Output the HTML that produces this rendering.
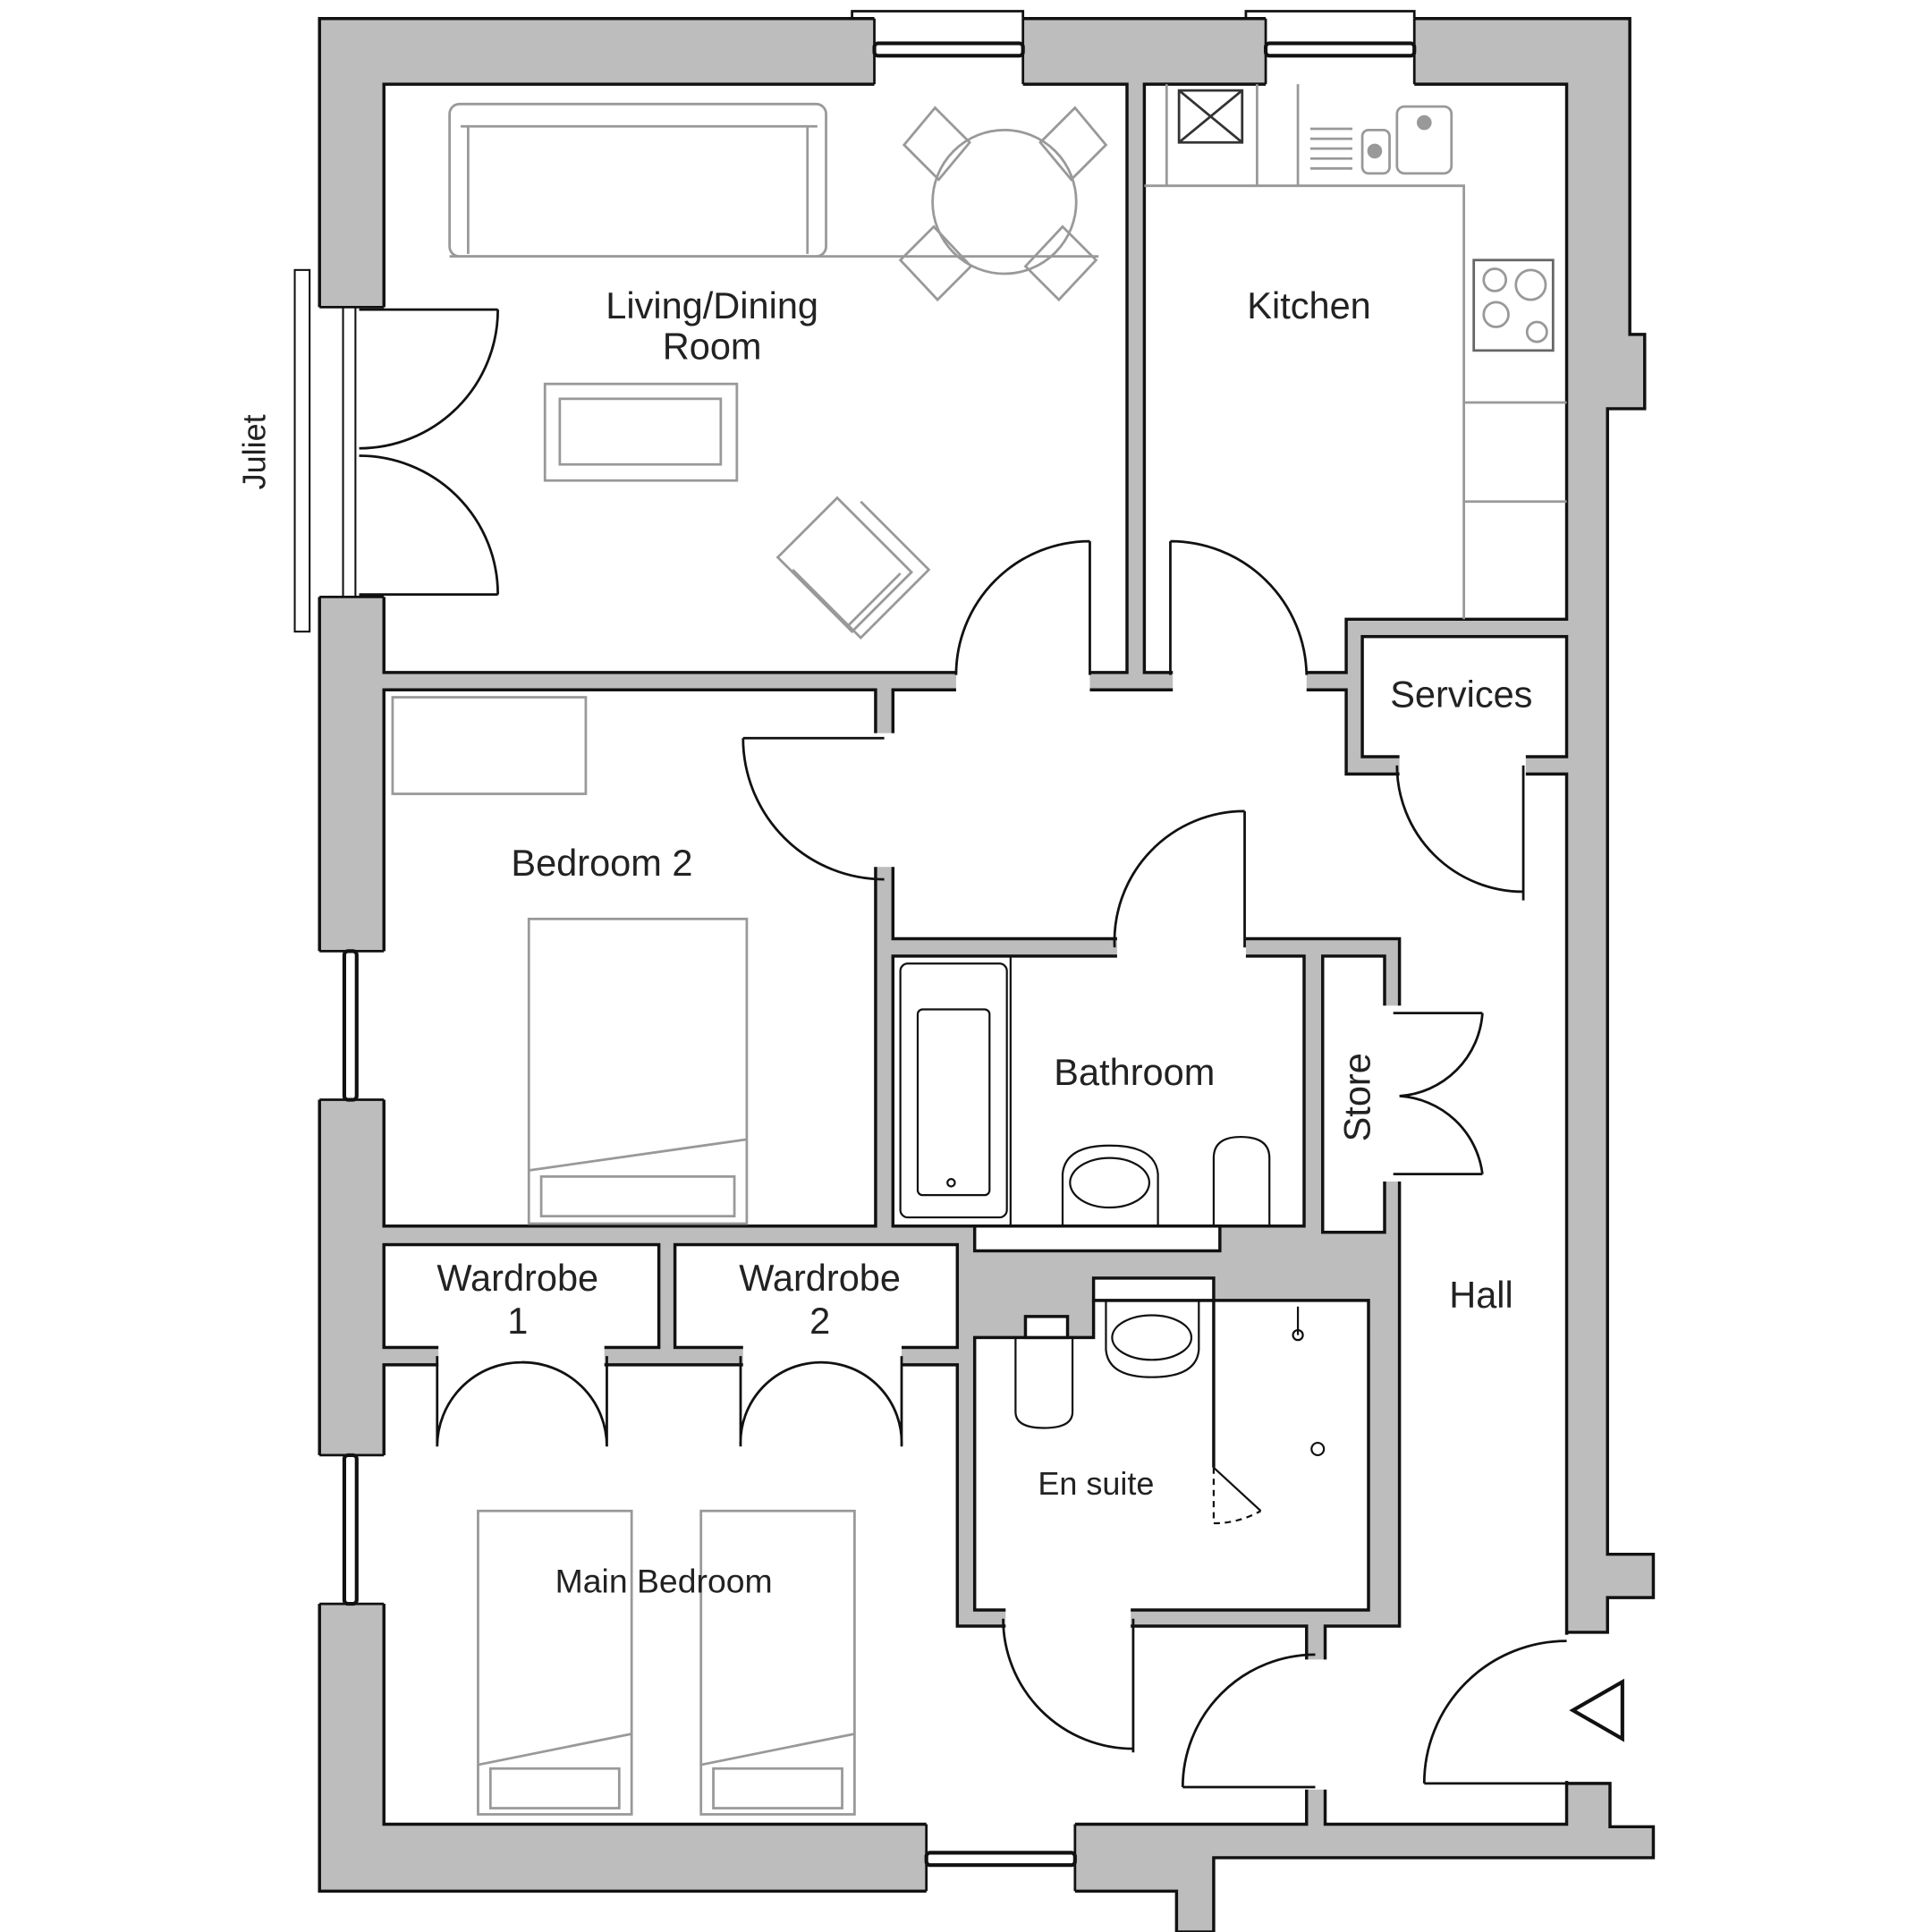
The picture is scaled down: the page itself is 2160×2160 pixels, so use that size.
<!DOCTYPE html>
<html><head><meta charset="utf-8"><style>html,body{margin:0;padding:0;background:#fff}svg{display:block}text{font-family:"Liberation Sans",sans-serif;fill:#222}</style></head>
<body>
<svg width="2160" height="2160" viewBox="0 0 1560 1560" xmlns="http://www.w3.org/2000/svg">
<rect width="1560" height="1560" fill="#fff"/>
<!-- building footprint -->
<path d="M258,15 H1316 V270 H1328 V330 H1298 V1255 H1335 V1290 H1298 V1318 H1265 V1440 H1300 V1475 H1335 V1500 H980 V1560 H950 V1527 H258 Z" fill="#bdbdbd" stroke="#111" stroke-width="2.5"/>
<g fill="#fff" stroke="#111" stroke-width="2.5">
<rect x="310" y="68" width="600" height="475"/>
<path d="M924,68 H1265 V500 H1087 V543 H924 Z"/>
<rect x="1100" y="514" width="165" height="97"/>
<path d="M721,557 H1087 V625 H1265 V1473 H1070 V1313 H1130 V758 H721 Z"/>
<rect x="310" y="557" width="397" height="433"/>
<rect x="721" y="772" width="332" height="218"/>
<rect x="1068" y="772" width="50" height="223"/>
<rect x="310" y="1005" width="222" height="83"/>
<rect x="545" y="1005" width="228" height="83"/>
<path d="M310,1102 H773 V1313 H1055 V1473 H310 Z"/>
<path d="M787,1080 H883 V1050 H1105 V1300 H787 Z"/>
<rect x="883" y="1032" width="97" height="18"/>
<rect x="828" y="1063" width="34" height="17"/>
<rect x="787" y="990" width="198" height="20"/>
</g>
<!-- openings -->
<g fill="#fff">
<rect x="706" y="13" width="120" height="57"/><rect x="1022" y="13" width="120" height="57"/>
<rect x="256" y="248" width="56" height="234"/>
<rect x="256" y="768" width="56" height="120"/><rect x="256" y="1175" width="56" height="120"/>
<rect x="748" y="1471" width="120" height="58"/>
<rect x="772" y="540" width="108" height="20"/><rect x="947" y="540" width="108" height="20"/>
<rect x="704" y="592" width="20" height="108"/>
<rect x="902" y="755" width="104" height="20"/>
<rect x="1130" y="608" width="102" height="20"/>
<rect x="1115" y="812" width="20" height="142"/>
<rect x="354" y="1085" width="134" height="20"/><rect x="600" y="1085" width="128" height="20"/>
<rect x="812" y="1297" width="101" height="19"/>
<rect x="1052" y="1340" width="21" height="105"/>
<rect x="1262" y="1320" width="40" height="118"/>
</g>
<!-- window details -->
<g fill="none" stroke="#111" stroke-width="2">
<line x1="706" y1="15" x2="706" y2="68"/><line x1="826" y1="15" x2="826" y2="68"/>
<line x1="1022" y1="15" x2="1022" y2="68"/><line x1="1142" y1="15" x2="1142" y2="68"/>
<path d="M688,15 V9 H826 V15"/><path d="M1006,15 V9 H1142 V15"/>
<rect x="706" y="35" width="120" height="10" rx="3" stroke-width="3"/>
<rect x="1022" y="35" width="120" height="10" rx="3" stroke-width="3"/>
<line x1="258" y1="768" x2="310" y2="768"/><line x1="258" y1="888" x2="310" y2="888"/>
<line x1="258" y1="1175" x2="310" y2="1175"/><line x1="258" y1="1295" x2="310" y2="1295"/>
<rect x="278" y="768" width="10" height="120" rx="3" stroke-width="3"/>
<rect x="278" y="1175" width="10" height="120" rx="3" stroke-width="3"/>
<line x1="748" y1="1473" x2="748" y2="1527"/><line x1="868" y1="1473" x2="868" y2="1527"/>
<rect x="748" y="1496" width="120" height="10" rx="3" stroke-width="3"/>
<line x1="258" y1="248" x2="310" y2="248"/><line x1="258" y1="482" x2="310" y2="482"/>
<rect x="238" y="218" width="12" height="292" stroke-width="1.5"/>
<rect x="277" y="248" width="10" height="234" stroke-width="1.5"/>
</g>
<!-- doors -->
<g fill="none" stroke="#111" stroke-width="2">
<path d="M880,545 V437 M880,437 A108,108 0 0 0 772,545"/>
<path d="M945,545 V437 M945,437 A110,110 0 0 1 1055,545"/>
<path d="M714,596 H600 M600,596 A114,114 0 0 0 714,710"/>
<path d="M1005,765 V655 M1005,655 A105,105 0 0 0 900,765"/>
<path d="M1230,618 V727 M1128,618 A102,102 0 0 0 1230,720"/>
<path d="M1125,818 H1197 M1197,818 A72,72 0 0 1 1130,885 M1125,948 H1197 M1197,948 A72,72 0 0 0 1130,885"/>
<path d="M353,1095 V1168 M353,1168 A68,68 0 0 1 421,1100 M490,1095 V1168 M490,1168 A68,68 0 0 0 421,1100"/>
<path d="M598,1095 V1168 M598,1168 A65,65 0 0 1 663,1100 M728,1095 V1168 M728,1168 A65,65 0 0 0 663,1100"/>
<path d="M915,1307 V1415 M810,1307 A105,105 0 0 0 915,1412"/>
<path d="M1062,1443 H955 M955,1443 A107,107 0 0 1 1062,1336"/>
<path d="M1265,1440 H1150 M1150,1440 A115,115 0 0 1 1265,1325"/>
<path d="M290,250 H402 M402,250 A112,112 0 0 1 290,362 M290,480 H402 M402,480 A112,112 0 0 0 290,368"/>
<path d="M1270,1381 L1310,1358 V1404 Z" stroke-width="3"/>
</g>
<!-- furniture -->
<g fill="none" stroke="#999" stroke-width="2">
<rect x="363" y="84" width="304" height="123" rx="8"/>
<path d="M372,102 H660 M378,102 V205 M652,102 V205"/>
<line x1="363" y1="207" x2="887" y2="207"/>
<circle cx="811" cy="163" r="58"/>
<path d="M730,117 l25,-30 l28,28 l-25,30 z M893,117 l-25,-30 l-28,28 l25,30 z M727,210 l30,32 l27,-27 l-30,-32 z M885,210 l-30,32 l-27,-27 l30,-32 z"/>
<rect x="440" y="310" width="155" height="78"/><rect x="452" y="322" width="130" height="53"/>
<path d="M628,450 l48,-48 l60,60 l-48,48 z M640,460 l55,55 l55,-55 l-55,-55 M685,505 l42,-42"/>
<path d="M924,150 H1182 V500 M1182,325 H1265 M1182,405 H1265 M942,68 V150 M1015,68 V150 M1048,68 V150"/>
<path d="M952,73 H1003 V115 H952 Z M952,73 L1003,115 M1003,73 L952,115" stroke="#333"/>
<rect x="1190" y="210" width="64" height="73" stroke="#666"/>
<circle cx="1207" cy="226" r="9"/><circle cx="1236" cy="230" r="12"/><circle cx="1208" cy="254" r="10"/><circle cx="1241" cy="268" r="8"/>
<rect x="1128" y="86" width="44" height="54" rx="6"/><rect x="1100" y="105" width="22" height="35" rx="5"/>
<circle cx="1150" cy="99" r="5" fill="#999"/><circle cx="1110" cy="122" r="5" fill="#999"/>
<path d="M1058,104 H1092 M1058,112 H1092 M1058,120 H1092 M1058,128 H1092 M1058,136 H1092"/>
<rect x="317" y="563" width="156" height="78"/>
<rect x="427" y="742" width="176" height="246"/><rect x="437" y="950" width="156" height="32"/><path d="M427,945 L603,920"/>
<rect x="386" y="1220" width="124" height="245"/><rect x="396" y="1428" width="104" height="32"/><path d="M386,1425 L510,1400"/>
<rect x="566" y="1220" width="124" height="245"/><rect x="576" y="1428" width="104" height="32"/><path d="M566,1425 L690,1400"/>
</g>
<g fill="none" stroke="#111" stroke-width="1.6">
<line x1="816" y1="772" x2="816" y2="990"/>
<rect x="727" y="778" width="86" height="205" rx="6"/>
<rect x="741" y="815" width="58" height="150" rx="4"/>
<circle cx="768" cy="955" r="3"/>
<path d="M858,990 V948 Q860,925 896,925 Q933,925 935,948 V990"/>
<ellipse cx="896" cy="955" rx="32" ry="20"/>
<path d="M980,990 V935 Q980,918 1002,918 Q1025,918 1025,935 V990"/>
<path d="M820,1080 V1140 Q820,1153 843,1153 Q866,1153 866,1140 V1080"/>
<path d="M893,1050 V1090 Q895,1112 930,1112 Q966,1112 968,1090 V1050"/>
<ellipse cx="930" cy="1080" rx="32" ry="18"/>
<line x1="980" y1="1050" x2="980" y2="1185" stroke-width="2.5"/>
<path d="M980,1185 L1018,1220"/>
<path d="M980,1185 V1230 Q1000,1230 1018,1220" stroke-dasharray="5,4"/>
<circle cx="1064" cy="1170" r="5"/>
<path d="M1048,1055 V1078"/><circle cx="1048" cy="1078" r="4"/>
</g>
<!-- labels -->
<g font-size="30" text-anchor="middle">
<text x="575" y="257">Living/Dining</text>
<text x="575" y="290">Room</text>
<text x="1057" y="257">Kitchen</text>
<text x="1180" y="571">Services</text>
<text x="486" y="707">Bedroom 2</text>
<text x="916" y="876">Bathroom</text>
<text x="1196" y="1056">Hall</text>
<text x="418" y="1042">Wardrobe</text><text x="418" y="1077">1</text>
<text x="662" y="1042">Wardrobe</text><text x="662" y="1077">2</text>
<text x="885" y="1207" font-size="26">En suite</text>
<text x="536" y="1286" font-size="27">Main Bedroom</text>
<text transform="translate(1106,886) rotate(-90)">Store</text>
<text transform="translate(214,365) rotate(-90)" font-size="26">Juliet</text>
</g>
</svg>
</body></html>
